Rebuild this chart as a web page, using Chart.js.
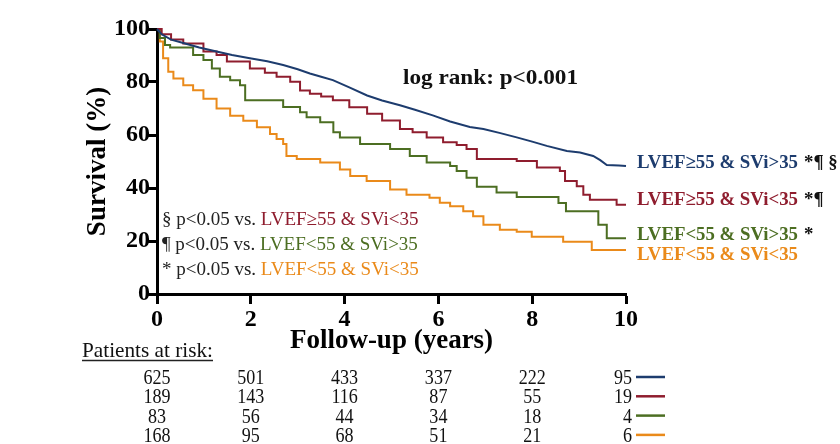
<!DOCTYPE html>
<html>
<head>
<meta charset="utf-8">
<script src="https://cdn.jsdelivr.net/npm/chart.js@4.4.1/dist/chart.umd.min.js"></script>
<style>
  html, body { margin: 0; padding: 0; background: #fff; }
  #wrap { width: 840px; height: 444px; }
</style>
</head>
<body>
<div id="wrap"><canvas id="km" width="840" height="444"></canvas></div>
<script>
// ===== Data =====
const groupNames  = ['LVEF≥55 & SVi>35', 'LVEF≥55 & SVi<35', 'LVEF<55 & SVi>35', 'LVEF<55 & SVi<35'];
const groupMarks  = ['*¶ §', '*¶', '*', ''];
const groupColors = ['#1d3c6e', '#8f1d2e', '#4c6e22', '#ea8a1a'];

const blueTime = [0, 0.1, 0.3, 0.56, 0.9, 1.27, 1.6, 1.98, 2.35, 2.69, 3.0, 3.26, 3.5, 3.75, 4.1, 4.48, 4.8, 5.18, 5.5, 5.88, 6.25, 6.67, 6.96, 7.3, 7.67, 8.0, 8.31, 8.74, 9.02, 9.3, 9.45, 9.59, 9.85, 10];
const blueSurv = [100, 98, 96, 94.7, 93, 91.5, 90.2, 89, 87.8, 86.4, 84.8, 83.2, 82, 80.7, 78, 74.9, 73, 71.2, 69.5, 67.4, 65.1, 63, 62.3, 60.8, 59.1, 57.5, 55.9, 54, 53.4, 52.1, 50.5, 48.7, 48.5, 48.3];

const redTime = [0, 0.1, 0.3, 0.56, 0.99, 1.27, 1.49, 1.98, 2.3, 2.55, 2.84, 3.05, 3.26, 3.5, 3.75, 4.1, 4.48, 4.8, 5.18, 5.45, 5.75, 6.1, 6.39, 6.6, 6.82, 7.67, 8.1, 8.59, 8.7, 8.95, 9.09, 9.23, 9.8, 10];
const redSurv = [100, 98, 96, 94.5, 91.5, 90.2, 87.7, 85.1, 83.5, 82, 80.1, 76.8, 75.6, 74.5, 73.1, 70.5, 68, 65.5, 62.3, 61, 59.1, 57.3, 56.2, 54.7, 50.9, 50.2, 47.7, 46.4, 42.6, 40.7, 37.5, 35.6, 33.7, 33.7];

const greenTime = [0, 0.06, 0.17, 0.28, 0.77, 0.99, 1.17, 1.34, 1.56, 1.77, 1.88, 2.69, 3.05, 3.19, 3.48, 3.76, 3.9, 4.33, 4.97, 5.39, 5.75, 6.25, 6.39, 6.6, 6.82, 7.24, 7.67, 8.56, 8.72, 9.41, 9.59, 10];
const greenSurv = [100, 96.6, 94, 93, 90.2, 88.3, 85.1, 82, 80.7, 78.8, 73.1, 70.6, 68.6, 66.7, 64.8, 61, 59.1, 56.6, 54.7, 52.1, 49.6, 48.3, 46.4, 43.9, 40.5, 38.3, 36.6, 34.3, 31.2, 26.1, 21, 21];

const orangeTime = [0, 0.06, 0.13, 0.24, 0.35, 0.56, 0.77, 0.99, 1.27, 1.56, 1.84, 2.13, 2.41, 2.55, 2.69, 2.76, 2.98, 3.48, 3.9, 4.12, 4.47, 4.97, 5.32, 5.81, 6.03, 6.25, 6.53, 6.74, 6.96, 7.31, 7.67, 7.99, 8.66, 9.27, 10];
const orangeSurv = [100, 95.3, 89, 83.9, 81.3, 78.8, 76.9, 73.7, 70, 67.3, 65.4, 62.9, 60.4, 58.5, 56.6, 52.1, 50.9, 49.6, 47, 44.5, 42.6, 39.4, 37.5, 36.3, 34.4, 33.1, 31.2, 29.3, 26.1, 24.2, 23.5, 21.6, 19.7, 16.6, 16.6];

const riskTimes  = [0, 2, 4, 6, 8, 10];
const riskBlue   = [625, 501, 433, 337, 222, 95];
const riskRed    = [189, 143, 116, 87, 55, 19];
const riskGreen  = [83, 56, 44, 34, 18, 4];
const riskOrange = [168, 95, 68, 51, 21, 6];

const xTicks = [0, 2, 4, 6, 8, 10];
const yTicks = [0, 20, 40, 60, 80, 100];

const SERIF = '"Liberation Serif", "Times New Roman", serif';

// ===== Helpers =====
const toPoints = (t, s) => t.map((v, i) => ({ x: v, y: s[i] }));

// draw text squeezed/stretched to a given width (w) or at natural width
function putText(ctx, txt, x, y, w, align) {
  const m = ctx.measureText(txt).width;
  const sx = w ? w / m : 1;
  ctx.save();
  ctx.translate(x, y);
  ctx.scale(sx, 1);
  ctx.textAlign = align || 'left';
  ctx.fillText(txt, 0, 0);
  ctx.restore();
  return m * sx;
}

// ===== Annotation plugin =====
const kmExtras = {
  id: 'kmExtras',
  afterDraw(chart) {
    const ctx = chart.ctx;
    const xs = chart.scales.x;
    ctx.save();
    ctx.textBaseline = 'alphabetic';

    // log rank
    ctx.fillStyle = '#111';
    ctx.font = 'bold 22px ' + SERIF;
    putText(ctx, 'log rank: p<0.001', 403, 84, 175);

    // group labels on the right
    const labelBase = [168, 205, 240, 260];
    ctx.font = 'bold 19px ' + SERIF;
    groupNames.forEach((name, i) => {
      ctx.fillStyle = groupColors[i];
      const w = putText(ctx, name, 637, labelBase[i], 161);
      if (groupMarks[i]) {
        ctx.fillStyle = '#111';
        const m = ctx.measureText(name).width;
        putText(ctx, groupMarks[i], 637 + w + 6, labelBase[i], ctx.measureText(groupMarks[i]).width * 161 / m);
      }
    });

    // pairwise notes
    const notes = [['§ p<0.05 vs. ', 1], ['¶ p<0.05 vs. ', 2], ['* p<0.05 vs. ', 3]];
    ctx.font = '19px ' + SERIF;
    notes.forEach((n, i) => {
      const y = 225 + i * 25;
      ctx.fillStyle = '#222';
      const w = putText(ctx, n[0], 162, y);
      ctx.fillStyle = groupColors[n[1]];
      putText(ctx, groupNames[n[1]], 162 + w, y);
    });

    // patients at risk
    ctx.fillStyle = '#111';
    ctx.font = '21px ' + SERIF;
    const pw = putText(ctx, 'Patients at risk:', 82, 357, 131);
    ctx.strokeStyle = '#222';
    ctx.lineWidth = 1.3;
    ctx.beginPath();
    ctx.moveTo(82, 360.5);
    ctx.lineTo(82 + pw, 360.5);
    ctx.stroke();

    const rows = [riskBlue, riskRed, riskGreen, riskOrange];
    rows.forEach((row, r) => {
      const y = 384 + r * 19.3;
      row.forEach((n, c) => {
        const txt = String(n);
        const nat = ctx.measureText(txt).width;
        if (c === row.length - 1) {
          putText(ctx, txt, 632, y, nat * 0.86, 'right');
        } else {
          putText(ctx, txt, xs.getPixelForValue(riskTimes[c]), y, nat * 0.86, 'center');
        }
      });
      ctx.strokeStyle = groupColors[r];
      ctx.lineWidth = 2.5;
      ctx.beginPath();
      ctx.moveTo(636, y - 7);
      ctx.lineTo(665, y - 7);
      ctx.stroke();
    });
    ctx.restore();
  }
};

// ===== Chart =====
const series = [
  { t: blueTime, s: blueSurv, stepped: false },
  { t: redTime, s: redSurv, stepped: true },
  { t: greenTime, s: greenSurv, stepped: true },
  { t: orangeTime, s: orangeSurv, stepped: true }
];

new Chart(document.getElementById('km'), {
  type: 'line',
  data: {
    datasets: series.map((d, i) => ({
      label: groupNames[i],
      data: toPoints(d.t, d.s),
      borderColor: groupColors[i],
      borderWidth: 2,
      pointRadius: 0,
      fill: false,
      tension: 0,
      stepped: d.stepped,
      clip: 3
    }))
  },
  options: {
    responsive: false,
    devicePixelRatio: 1,
    animation: false,
    layout: { padding: { left: 82, top: 29, right: 214, bottom: 87 } },
    plugins: { legend: { display: false }, tooltip: { enabled: false } },
    scales: {
      x: {
        type: 'linear', min: 0, max: 10,
        afterBuildTicks: s => { s.ticks = xTicks.map(v => ({ value: v })); },
        afterFit: s => { s.height = 63; },
        ticks: { color: '#000', font: { family: SERIF, size: 24, weight: 'bold' }, padding: 1, maxRotation: 0 },
        grid: { drawOnChartArea: false, tickLength: 10, tickWidth: 3, tickColor: '#000' },
        border: { color: '#000', width: 3 },
        title: { display: true, text: 'Follow-up (years)', color: '#000', padding: 0,
                 font: { family: SERIF, size: 27, weight: 'bold' } }
      },
      y: {
        type: 'linear', min: 0, max: 100,
        afterBuildTicks: s => { s.ticks = yTicks.map(v => ({ value: v })); },
        afterFit: s => { s.width = 75; },
        ticks: { color: '#000', font: { family: SERIF, size: 24, weight: 'bold' }, padding: -3 },
        grid: { drawOnChartArea: false, tickLength: 10, tickWidth: 3, tickColor: '#000' },
        border: { color: '#000', width: 3 },
        title: { display: true, text: 'Survival (%)', color: '#000', padding: 0,
                 font: { family: SERIF, size: 27, weight: 'bold' } }
      }
    }
  },
  plugins: [kmExtras]
});
</script>
</body>
</html>
